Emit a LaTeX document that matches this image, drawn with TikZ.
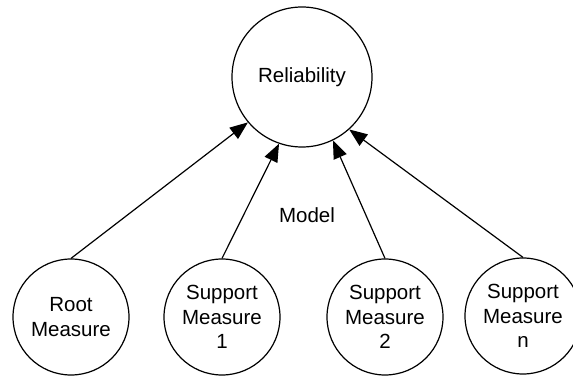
\documentclass[tikz,border=0pt]{standalone}
\usepackage{fontspec}
\setmainfont{Liberation Sans}
\usetikzlibrary{arrows.meta}
\begin{document}
\begin{tikzpicture}[x=1pt,y=-1pt,
  big/.style={draw,circle,line width=1.2pt,minimum size=140pt,inner sep=0pt,
    font=\fontsize{20.5}{24.5}\selectfont,align=center},
  small/.style={draw,circle,line width=1.2pt,minimum size=116pt,inner sep=0pt,
    font=\fontsize{20.5}{24.5}\selectfont,align=center},
  link/.style={line width=1.2pt,-{Triangle[length=18pt,width=14pt]}}]
\useasboundingbox (0,0) rectangle (573,377);
\clip (0,0) rectangle (573,377);
\node[big] (rel) at (302,77) {Reliability};
\node[small] (root) at (71,317) {Root\\Measure};
\node[small] (s1) at (222,317) {Support\\Measure\\1};
\node[small] (s2) at (385,317) {Support\\Measure\\2};
\node[small] (sn) at (523,316) {Support\\Measure\\n};
\node[font=\fontsize{20.5}{24.5}\selectfont] (model) at (307,215) {Model};
\draw[link] (root.north) -- (rel.220);
\draw[link] (s1.north) -- (rel.251);
\draw[link] (s2.north) -- (rel.296);
\draw[link] (sn.north) -- (rel.312);
\end{tikzpicture}
\end{document}
